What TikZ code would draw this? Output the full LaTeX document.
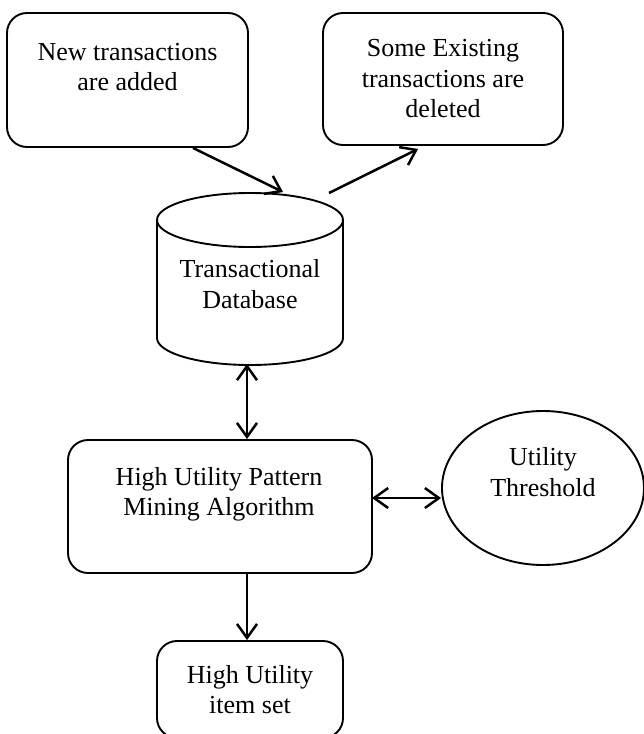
\documentclass[tikz,border=0pt]{standalone}
\usepackage{fontspec}
\setmainfont{Liberation Serif}
\usetikzlibrary{arrows.meta,shapes.geometric,calc}
\begin{document}
\begin{tikzpicture}[x=1pt,y=-1pt,line width=1.9pt,
  box/.style={draw,rounded corners=20pt,inner sep=0pt},
  lbl/.style={align=center,inner sep=0pt,font=\fontsize{26}{30.5}\selectfont},
  tip/.tip={Straight Barb[length=14pt,width=20pt]},
  arr/.style={-tip,line width=2.5pt},
  darr/.style={tip-tip,line width=2.5pt}]
\useasboundingbox (0,0) rectangle (644,734);
% top boxes
\node[box,minimum width=241pt,minimum height=134pt] (b1) at (127.5,80) {};
\node[lbl] (t1) at (127.5,67) {New transactions\\are added};
\node[box,lbl,minimum width=240pt,minimum height=132pt] (b2) at (443,79) {Some Existing\\transactions are\\deleted};
% database cylinder
\draw (250,220) ellipse [x radius=93pt,y radius=27pt];
\draw (157,220) -- (157,338) arc[start angle=180,end angle=360,x radius=93pt,y radius=27pt] -- (343,220);
\node[lbl] (db) at (250,284) {Transactional\\Database};
\coordinate (dbin) at (283,192);
\coordinate (dbout) at (329,193);
\coordinate (dbbot) at (247,364);
% algorithm
\node[box,minimum width=304pt,minimum height=133pt] (alg) at (220,506.5) {};
\node[lbl] (algt) at (219,494.5) {High Utility Pattern\\Mining Algorithm};
\coordinate (ah) at (372,498);
% threshold ellipse
\node[draw,ellipse,inner sep=0pt,minimum width=202pt,minimum height=154pt] (ut) at (543,488) {};
\node[lbl] (utt) at (543,472) {Utility\\Threshold};
% result
\begin{scope}
\clip (0,0) rectangle (644,734);
\node[box,lbl,minimum width=186pt,minimum height=97pt] (hu) at (250,689.5) {High Utility\\item set};
\end{scope}
% connectors
\draw[arr] ($(b1.south)+(65.5,0)$) -- (dbin);
\draw[arr] (dbout) -- ($(b2.south west)+(96,3)$);
\draw[darr] (dbbot) -- (dbbot |- alg.north);
\draw[darr] (ah) -- (ut.west |- ah);
\draw[arr] (dbbot |- alg.south) -- (dbbot |- hu.north);
\end{tikzpicture}
\end{document}
